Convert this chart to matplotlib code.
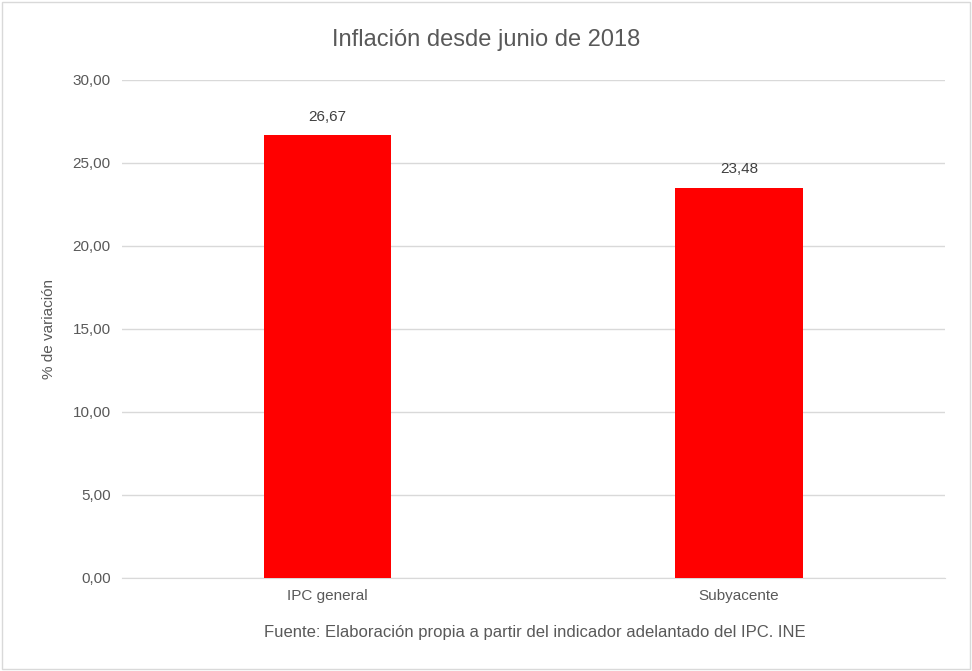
import matplotlib
matplotlib.use("Agg")
import matplotlib.pyplot as plt
from matplotlib.patches import Rectangle

categories = ["IPC general", "Subyacente"]
values = [26.67, 23.48]
yticks = [0, 5, 10, 15, 20, 25, 30]

gray = "#595959"
plt.rcParams['font.family'] = ['Liberation Sans', 'DejaVu Sans']

fig = plt.figure(figsize=(9.72, 6.71), dpi=100)
ax = fig.add_axes([0.1255, 0.1386, 0.8465, 0.7424])

bars = ax.bar(range(len(categories)), values, width=0.31, color="#ff0000", zorder=3)
for b, v in zip(bars, values):
    ax.text(b.get_x() + b.get_width() / 2, v + 0.7, f"{v:.2f}".replace(".", ","),
            ha="center", va="bottom", fontsize=11, color="#404040")

ax.set_xlim(-0.5, 1.5)
ax.set_ylim(0, 30)
ax.set_yticks(yticks)
ax.set_yticklabels([f"{t:.2f}".replace(".", ",") for t in yticks], fontsize=11, color=gray)
ax.set_xticks(range(len(categories)))
ax.set_xticklabels(categories, fontsize=11, color=gray)
ax.tick_params(length=0, pad=8)
ax.grid(axis="y", color="#d9d9d9", linewidth=1, zorder=0)
for s in ["top", "right", "left"]:
    ax.spines[s].set_visible(False)
ax.spines["bottom"].set_color("#d9d9d9")
ax.set_ylabel("% de variación", fontsize=11, color=gray, labelpad=12)

fig.text(0.5, 0.94, "Inflación desde junio de 2018", ha="center", va="center",
         fontsize=17, color=gray)
fig.text(0.55, 0.057, "Fuente: Elaboración propia a partir del indicador adelantado del IPC. INE",
         ha="center", va="center", fontsize=12, color=gray)
fig.patches.append(Rectangle((0.002, 0.003), 0.996, 0.994, transform=fig.transFigure,
                             fill=False, edgecolor="#d9d9d9", linewidth=1))

fig.savefig("out.png", dpi=100)
